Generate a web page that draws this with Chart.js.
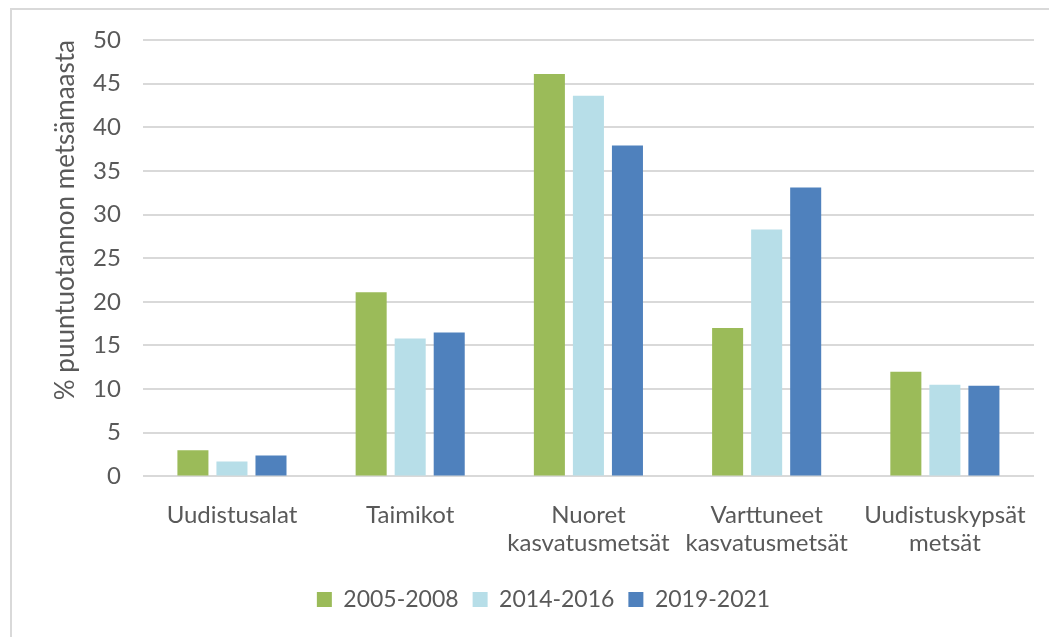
<!DOCTYPE html>
<html>
<head>
<meta charset="utf-8">
<script src="https://cdn.jsdelivr.net/npm/chart.js@4.4.1/dist/chart.umd.min.js"></script>
<style>
    html, body { margin: 0; padding: 0; background: #fff; }
    body { width: 1049px; height: 637px; position: relative; overflow: hidden; }
    #frame {
        position: absolute; left: 10px; top: 8px; width: 1100px; height: 700px;
        border-left: 2px solid #d9d9d9; border-top: 2px solid #d9d9d9;
    }
    #wrap { position: absolute; left: 0; top: 0; width: 1049px; height: 637px; }
</style>
</head>
<body>
<div id="frame"></div>
<div id="wrap"><canvas id="forestChart" width="1049" height="637"></canvas></div>
<script>
const categories = [
    "Uudistusalat",
    "Taimikot",
    ["Nuoret", "kasvatusmetsät"],
    ["Varttuneet", "kasvatusmetsät"],
    ["Uudistuskypsät", "metsät"]
];
const seriesLabels = ["2005-2008", "2014-2016", "2019-2021"];
const values2005 = [3.0, 21.1, 46.1, 17.0, 12.0];
const values2014 = [1.7, 15.8, 43.6, 28.3, 10.5];
const values2019 = [2.4, 16.5, 37.9, 33.1, 10.4];
const seriesColors = ["#9bbb59", "#b7dee8", "#4f81bd"];
const yTitle = "% puuntuotannon metsämaasta";

const fontFamily = "Lato, 'Open Sans', sans-serif";
const textColor = "#595959";

const ctx = document.getElementById("forestChart").getContext("2d");

const chart = new Chart(ctx, {
    type: "bar",
    data: {
        labels: categories,
        datasets: [values2005, values2014, values2019].map((vals, i) => ({
            label: seriesLabels[i],
            data: vals,
            backgroundColor: seriesColors[i],
            categoryPercentage: 0.657,
            barPercentage: 0.795
        }))
    },
    options: {
        responsive: false,
        animation: false,
        layout: { padding: { left: 53, right: 15, top: 40, bottom: 16 } },
        plugins: {
            tooltip: { enabled: false },
            legend: {
                position: "bottom",
                labels: {
                    color: textColor,
                    font: { family: fontFamily, size: 23 },
                    boxWidth: 15,
                    boxHeight: 15,
                    padding: 14
                }
            }
        },
        scales: {
            x: {
                grid: { display: false },
                border: { display: false },
                ticks: {
                    color: textColor,
                    font: { family: fontFamily, size: 24, lineHeight: 1.2 },
                    padding: 16,
                    maxRotation: 0,
                    autoSkip: false
                }
            },
            y: {
                min: 0,
                max: 50,
                grid: { color: "#d9d9d9", lineWidth: 2, drawTicks: false },
                border: { display: false },
                ticks: {
                    stepSize: 5,
                    color: textColor,
                    font: { family: fontFamily, size: 24 },
                    padding: 22
                },
                title: {
                    display: true,
                    text: yTitle,
                    align: "end",
                    color: textColor,
                    font: { family: fontFamily, size: 26, lineHeight: 1.0 },
                    padding: { top: 0, bottom: -8 }
                }
            }
        }
    }
});
</script>
</body>
</html>
